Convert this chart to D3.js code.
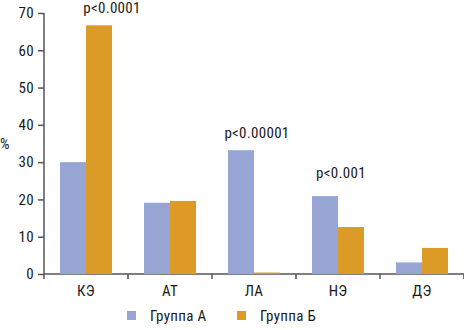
<!DOCTYPE html>
<html>
<head>
<meta charset="utf-8">
<script src="https://cdn.jsdelivr.net/npm/d3@7"></script>
<style>
  body { margin: 0; background: #fff; }
  svg text { font-family: "Liberation Sans Narrow", "Arial Narrow", "Roboto Condensed", "Liberation Sans", sans-serif; fill: #1a1a1a; letter-spacing: 0.3px; }
</style>
</head>
<body>
<div id="chart"></div>
<script>
// data
var categories = ["КЭ", "АТ", "ЛА", "НЭ", "ДЭ"];
var groups = ["Группа А", "Группа Б"];
var groupA = [30, 19.1, 33.2, 20.9, 3.1];
var groupB = [66.7, 19.6, 0.4, 12.6, 7.0];
var pLabels = ["p<0.0001", "", "p<0.00001", "p<0.001", ""];
var pValueAt = [69.9, 0, 36.5, 25.8, 0];   // where the p label sits (in % units)
var yTicks = [0, 10, 20, 30, 40, 50, 60, 70];

var colors = ["#97a5d5", "#dc9a27"];

// setup dimensions
var W = 464, H = 330,
  margin = {top: 13, right: 0, bottom: 56, left: 44},
  width = W - margin.left - margin.right,
  height = H - margin.top - margin.bottom,
  fs = "15px";

var svg = d3.select("#chart").append("svg")
  .attr("width", W)
  .attr("height", H)
.append("g")
  .attr("transform", "translate(" + margin.left + "," + margin.top + ")");

var x = d3.scaleBand()
  .domain(categories)
  .range([0, width]);

var xInner = d3.scaleBand()
  .domain(groups)
  .range([16, x.bandwidth() - 16]);

var y = d3.scaleLinear()
  .domain([0, 70])
  .range([height, 0]);

// y axis
var yAxis = svg.append("g")
  .attr("class", "axis axis--y")
  .call(d3.axisLeft(y).tickValues(yTicks).tickSize(6).tickPadding(4));
yAxis.selectAll("text").style("font-size", fs);

// x axis, ticks between the categories
var xAxis = svg.append("g")
  .attr("class", "axis axis--x")
  .attr("transform", "translate(0," + height + ")")
  .call(d3.axisBottom(x).tickSize(0).tickPadding(11));
xAxis.selectAll("text").style("font-size", fs);

var bounds = categories.map(function(c) { return x(c); }).concat([width]);
xAxis.selectAll("line.sep")
  .data(bounds)
  .enter().append("line")
  .attr("class", "sep")
  .attr("x1", function(d) { return d; })
  .attr("x2", function(d) { return d; })
  .attr("y1", 0)
  .attr("y2", 5);

svg.selectAll(".axis line")
  .attr("stroke", "#555")
  .attr("stroke-width", 1.5);
svg.selectAll(".axis path").remove();
yAxis.append("line").attr("x1", 0).attr("x2", 0).attr("y1", 0).attr("y2", height)
  .attr("stroke", "#555").attr("stroke-width", 1.5);
xAxis.append("line").attr("x1", 0).attr("x2", width).attr("y1", 0).attr("y2", 0)
  .attr("stroke", "#555").attr("stroke-width", 1.5);

// bars
var series = [groupA, groupB];
series.forEach(function(vals, gi) {
  svg.selectAll("rect.bar-" + gi)
    .data(vals)
    .enter().append("rect")
    .attr("class", "bar-" + gi)
    .attr("x", function(d, i) { return x(categories[i]) + xInner(groups[gi]); })
    .attr("width", xInner.bandwidth())
    .attr("y", function(d) { return y(d); })
    .attr("height", function(d) { return height - y(d); })
    .attr("fill", colors[gi]);
});

// p values
var pData = pLabels.map(function(t, i) { return {t: t, i: i}; })
  .filter(function(d) { return d.t !== ""; });
svg.selectAll("text.pval")
  .data(pData)
  .enter().append("text")
  .attr("class", "pval")
  .attr("x", function(d) { return x(categories[d.i]) + x.bandwidth() / 2 + (d.i === 0 ? 26 : 3); })
  .attr("y", function(d) { return y(pValueAt[d.i]); })
  .attr("text-anchor", "middle")
  .style("font-size", fs)
  .text(function(d) { return d.t; });

// % label
svg.append("text")
  .attr("x", -44)
  .attr("y", y(33.4))
  .style("font-size", fs)
  .text("%");

// legend
var legend = svg.append("g")
  .attr("transform", "translate(0," + (height + 46) + ")");
var legX = [83, 193];
groups.forEach(function(g, i) {
  legend.append("rect")
    .attr("x", legX[i])
    .attr("y", -9)
    .attr("width", 9)
    .attr("height", 9)
    .attr("fill", colors[i]);
  legend.append("text")
    .attr("x", legX[i] + 23)
    .attr("y", 1)
    .style("font-size", fs)
    .text(g);
});
</script>
</body>
</html>
